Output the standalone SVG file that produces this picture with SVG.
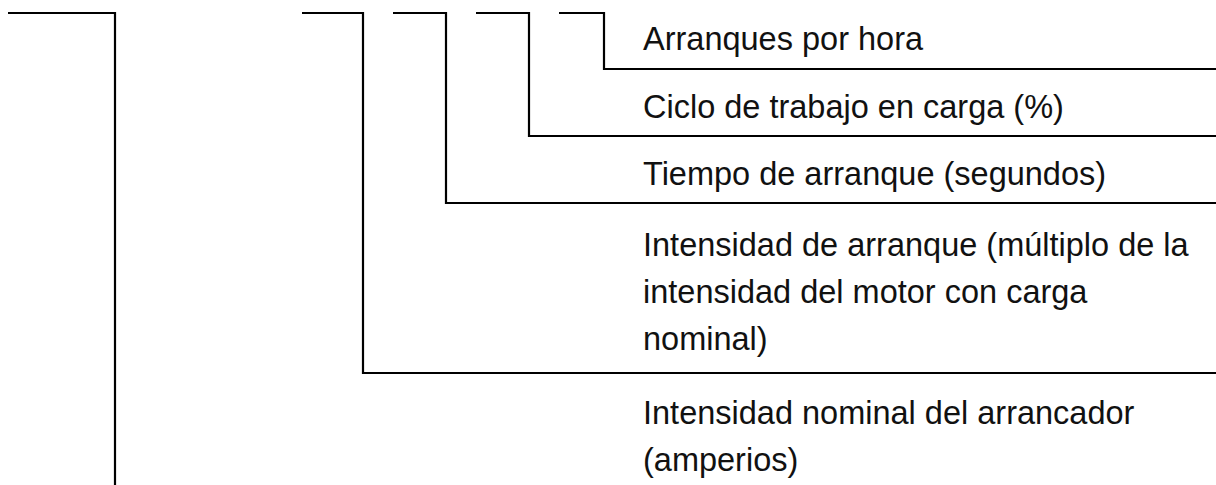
<svg xmlns="http://www.w3.org/2000/svg" width="1216" height="485" viewBox="0 0 1216 485">
<style>
.ln{fill:none;stroke:#000;stroke-width:2.2;stroke-linejoin:miter}
.t{font-family:"Liberation Sans",Arial,sans-serif;font-size:32.5px;fill:#111}
</style>
<rect width="1216" height="485" fill="#fff"/>
<g id="connectors">
<path class="ln" d="M8,13 H115 V485"/>
<path class="ln" d="M302,13 H363 V373 H1216"/>
<path class="ln" d="M393,13 H446 V203 H1216"/>
<path class="ln" d="M476,13 H529 V136 H1216"/>
<path class="ln" d="M559,13 H604 V69 H1216"/>
</g>
<g id="node-arranques"><text class="t" x="643" y="50">Arranques por hora</text></g>
<g id="node-ciclo"><text class="t" x="643" y="118">Ciclo de trabajo en carga (%)</text></g>
<g id="node-tiempo"><text class="t" x="643" y="185">Tiempo de arranque (segundos)</text></g>
<g id="node-intensidad-arranque"><text class="t" x="643" y="256">Intensidad de arranque (múltiplo de la<tspan x="643" y="303">intensidad del motor con carga</tspan><tspan x="643" y="350">nominal)</tspan></text></g>
<g id="node-intensidad-nominal"><text class="t" x="643" y="424">Intensidad nominal del arrancador<tspan x="643" y="471">(amperios)</tspan></text></g>
</svg>
